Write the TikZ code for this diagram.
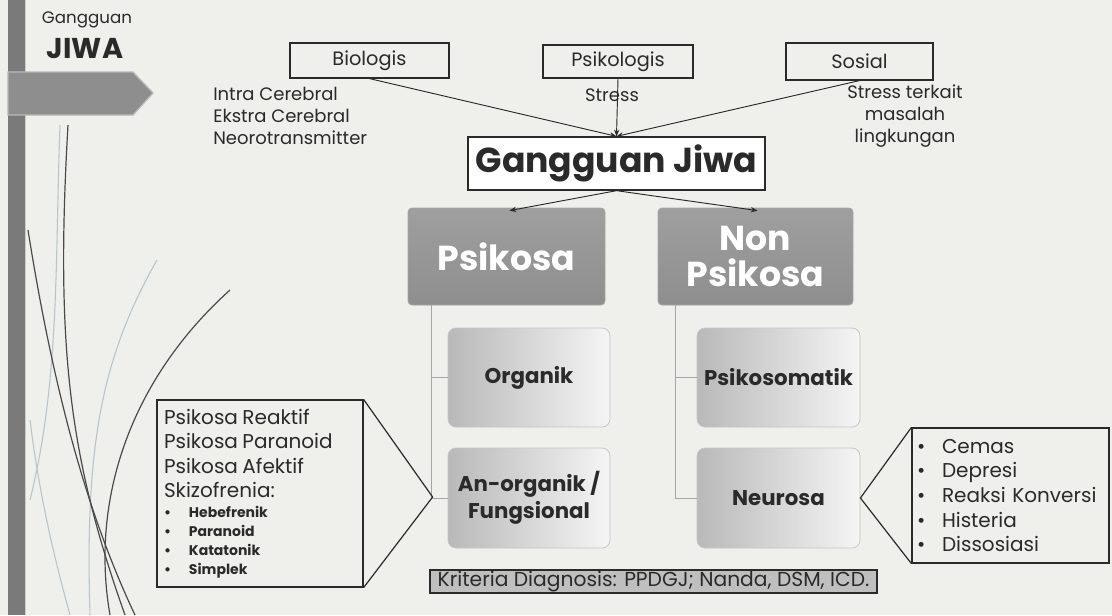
\documentclass[tikz,border=0pt]{standalone}
\usepackage{fontspec}
\setmainfont{Poppins}
\usetikzlibrary{arrows.meta,calc,shadows}
\definecolor{bg}{HTML}{EFEFEC}
\definecolor{ink}{HTML}{2A2A2A}
\definecolor{bargray}{HTML}{7A7A7A}
\definecolor{boxgray}{HTML}{8E8E8E}
\definecolor{lightcurve}{HTML}{B9C4C8}
\tikzset{
  topbox/.style={draw=ink, line width=0.9pt, fill=bg, font=\fontsize{14.5}{16}\selectfont, text=ink},
  subtext/.style={font=\fontsize{13.5}{16.5}\selectfont, text=ink},
  mainbox/.style={draw=ink, line width=1pt, fill=white, font=\bfseries\fontsize{26}{28}\selectfont, text=ink},
  catbox/.style={draw=gray!70, line width=0.6pt, rounded corners=3pt, top color=boxgray!85, bottom color=boxgray, text=white, font=\bfseries\fontsize{26}{27}\selectfont, align=center, inner sep=0pt},
  subbox/.style={draw=gray!45, line width=0.6pt, rounded corners=6pt, shading angle=135, left color=gray!55, right color=gray!8, text=ink, font=\bfseries\fontsize{16}{20}\selectfont, align=center, inner sep=0pt},
  arr/.style={draw=ink, line width=0.7pt, -{Stealth[length=5pt,width=4pt]}},
  conn/.style={draw=gray!70, line width=0.6pt},
  callout/.style={draw=ink, line width=0.9pt, fill=bg, align=left, inner sep=0pt, text=ink},
  deco/.style={line width=0.9pt, draw=ink!85},
  decolight/.style={line width=0.8pt, draw=lightcurve},
}
\newcommand{\bul}[1]{\makebox[18.75pt][l]{\textbullet}#1}
\begin{document}
\begin{tikzpicture}[x=0.75pt,y=-0.75pt]
\useasboundingbox (0,0) rectangle (1112,615);
\fill[bg] (0,0) rectangle (1112,615);
% decorative curves
\draw[decolight] (60,125) .. controls (55,260) and (60,380) .. (30,500);
\draw[decolight] (157,260) .. controls (100,360) and (85,450) .. (90,615);
\draw[decolight] (30,420) .. controls (40,500) and (55,560) .. (70,615);
\draw[deco] (68,125) .. controls (55,350) and (70,460) .. (125,615);
\draw[deco] (28,230) .. controls (55,400) and (90,520) .. (135,615);
\draw[deco] (230,290) .. controls (130,380) and (90,500) .. (110,615);
% left bar and banner
\fill[bargray] (8,0) rectangle (25,615);
\draw[gray!40, line width=0.6pt] (25,0) -- (25,615);
\filldraw[fill=boxgray, draw=gray!55, line width=1pt] (8,72) -- (133,72) -- (153,93) -- (133,115) -- (8,115) -- cycle;
\node[font=\fontsize{12.5}{13}\selectfont, text=ink] (t1) at (87,20) {Gangguan};
\node[font=\bfseries\fontsize{21.5}{22}\selectfont, text=ink] (t2) at (85,49) {JIWA};
% top boxes
\node[topbox, minimum width=159*0.75pt, minimum height=35*0.75pt] (bio) at (369.5,60.5) {Biologis};
\node[topbox, minimum width=150*0.75pt, minimum height=33*0.75pt] (psi) at (618,61.5) {Psikologis};
\node[topbox, minimum width=147*0.75pt, minimum height=37*0.75pt] (sos) at (859.5,61.5) {Sosial};
\node[subtext, align=left, anchor=north west, inner sep=0pt] (biotxt) at (213,87) {Intra Cerebral\\Ekstra Cerebral\\Neorotransmitter};
\node[subtext, inner sep=0pt] (psitxt) at (612,95) {Stress};
\node[subtext, align=center, anchor=north, inner sep=0pt] (sostxt) at (905,85) {Stress terkait\\masalah\\lingkungan};
% main box
\node[mainbox, minimum width=297*0.75pt, minimum height=53*0.75pt] (gj) at (616.5,163.5) {Gangguan Jiwa};
\draw[arr] (bio.south) -- (gj.north);
\draw[arr] (psi.south) -- (gj.north);
\draw[arr] (sos.south) -- (gj.north);
% categories
\node[catbox, minimum width=197*0.75pt, minimum height=97*0.75pt] (psk) at (506.5,256.5) {Psikosa};
\node[catbox, minimum width=195*0.75pt, minimum height=97*0.75pt] (npsk) at (755.5,256.5) {Non\\Psikosa};
\draw[arr] (gj.south) -- ($(psk.north)+(3,3)$);
\draw[arr] (gj.south) -- ($(npsk.north)+(2,3)$);
% sub boxes
\node[subbox, minimum width=162*0.75pt, minimum height=99*0.75pt] (org) at (529,377.5) {Organik};
\node[subbox, minimum width=162*0.75pt, minimum height=100*0.75pt] (anorg) at (529,498) {An-organik /\\Fungsional};
\node[subbox, minimum width=163*0.75pt, minimum height=99*0.75pt] (psom) at (778.5,377.5) {Psikosomatik};
\node[subbox, minimum width=163*0.75pt, minimum height=100*0.75pt] (neur) at (778.5,498) {Neurosa};
\coordinate (pskv) at ($(psk.south west)+(24,0)$);
\coordinate (npskv) at ($(npsk.south west)+(18,0)$);
\draw[conn] (pskv) |- (org.west);
\draw[conn] (pskv) |- (anorg.west);
\draw[conn] (npskv) |- (psom.west);
\draw[conn] (npskv) |- (neur.west);
% left callout
\node[callout, minimum width=206*0.75pt, minimum height=187*0.75pt, text width=192*0.75pt] (calll) at (260,493.5) {%
\fontsize{15}{18.4}\selectfont Psikosa Reaktif\\Psikosa Paranoid\\Psikosa Afektif\\Skizofrenia:\par
\bfseries\fontsize{10.5}{14.3}\selectfont \bul{Hebefrenik}\\\bul{Paranoid}\\\bul{Katatonik}\\\bul{Simplek}\par};
\coordinate (tipl) at ($(anorg.west)+(-15,-1)$);
\draw[ink, line width=0.9pt] (calll.north east) -- (tipl) -- (calll.south east);
% right callout
\node[callout, minimum width=197*0.75pt, minimum height=135*0.75pt, text width=187*0.75pt, font=\fontsize{15}{18.4}\selectfont] (callr) at (1010.5,495.5) {%
\bul{Cemas}\\\bul{Depresi}\\\bul{Reaksi Konversi}\\\bul{Histeria}\\\bul{Dissosiasi}};
\draw[ink, line width=0.9pt] (callr.north west) -- (neur.east) -- (callr.south west);
% bottom label
\node[draw=ink, line width=1pt, fill=gray!50, minimum width=447*0.75pt, minimum height=23*0.75pt, inner sep=0pt, font=\fontsize{15.2}{16}\selectfont, text=ink] (krit) at (653.5,581.5) {Kriteria Diagnosis: PPDGJ; Nanda, DSM, ICD.};
\end{tikzpicture}
\end{document}
